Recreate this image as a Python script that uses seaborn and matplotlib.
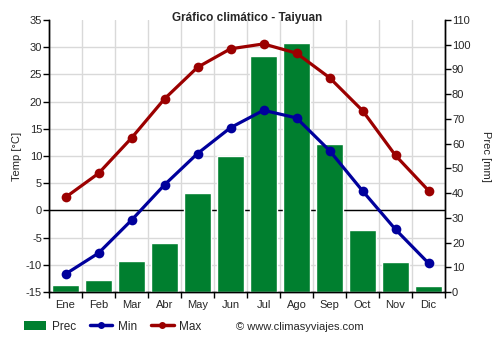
import matplotlib
matplotlib.use("Agg")
import matplotlib.pyplot as plt
from matplotlib.patches import Patch
from matplotlib.lines import Line2D
import seaborn as sns
import numpy as np

months = ["Ene", "Feb", "Mar", "Abr", "May", "Jun", "Jul", "Ago", "Sep", "Oct", "Nov", "Dic"]
prec = [3, 5, 12.5, 20, 40, 55, 95.5, 100.5, 60, 25, 12, 2.5]
tmin = [-11.7, -7.85, -1.8, 4.7, 10.45, 15.2, 18.4, 17.0, 11.0, 3.6, -3.5, -9.7]
tmax = [2.4, 6.8, 13.3, 20.5, 26.3, 29.7, 30.6, 28.9, 24.4, 18.35, 10.1, 3.65]

temp_ticks = list(range(-15, 40, 5))
prec_ticks = list(range(0, 120, 10))

GREEN = "#007f2f"
BLUE = "#00009c"
RED = "#9b0000"
GRID = "#d9d9d9"

sns.set_theme(style="white")
plt.rcParams['font.family'] = ['Liberation Sans', 'DejaVu Sans']
plt.rcParams['axes.unicode_minus'] = False

fig = plt.figure(figsize=(5, 3.5), dpi=100)
axb = fig.add_axes([0.098, 0.1657, 0.792, 0.7772])
axt = axb.twinx()

# bars (precipitation) on the lower axes, right scale
sns.barplot(x=months, y=prec, ax=axb, color=GREEN, saturation=1, width=0.82, zorder=3)
axb.set_ylim(0, 110)
axb.set_xlim(-0.5, 11.5)

# grid on bar axes, aligned with temperature ticks
def t2p(t):
    return (t + 15) * 110 / 50

axb.set_yticks(prec_ticks)
axb.set_yticks([t2p(t) for t in temp_ticks], minor=True)
axb.yaxis.grid(True, which='minor', color=GRID, lw=1, zorder=0)
axb.yaxis.grid(False, which='major')
axb.set_xticks(range(12))
axb.set_xticklabels(months)
axb.set_xticks(np.arange(-0.5, 12, 1), minor=True)
axb.xaxis.grid(True, which='minor', color=GRID, lw=1, zorder=0)
axb.xaxis.grid(False, which='major')
axb.set_axisbelow(True)
axb.axhline(t2p(0), color='black', lw=1, zorder=2)

axb.yaxis.tick_right()
axb.yaxis.set_label_position('right')
axb.tick_params(axis='y', which='major', direction='out', length=4, width=1, color='black',
                labelsize=8, pad=1, right=True, left=False, labelright=True, labelleft=False)
axb.tick_params(axis='y', which='minor', length=0)
axb.tick_params(axis='x', which='major', length=0, labelsize=8, pad=6)
axb.tick_params(axis='x', which='minor', direction='out', length=4, width=1, color='black', bottom=True)
axb.set_xlabel("")
axb.set_ylabel("Prec [mm]", rotation=270, fontsize=8, labelpad=15)

# temperature lines on the top axes, left scale
x = np.arange(len(months))
sns.lineplot(x=x, y=tmin, ax=axt, color=BLUE, lw=2.3, marker='o', markersize=7,
             markeredgewidth=0, zorder=5)
sns.lineplot(x=x, y=tmax, ax=axt, color=RED, lw=2.3, marker='o', markersize=7,
             markeredgewidth=0, zorder=5)
axt.set_ylim(-15, 35)
axt.set_yticks(temp_ticks)
axt.yaxis.tick_left()
axt.yaxis.set_label_position('left')
axt.tick_params(axis='y', direction='out', length=4, width=1, color='black',
                labelsize=8, pad=1, left=True, right=False, labelleft=True, labelright=False)
axt.set_ylabel("Temp [°C]", fontsize=8, labelpad=3)
axt.grid(False)
axt.patch.set_visible(False)

for ax in (axb, axt):
    for s in ('left', 'right', 'bottom'):
        ax.spines[s].set_visible(True)
        ax.spines[s].set_color('black')
        ax.spines[s].set_linewidth(1)
    ax.spines['top'].set_visible(False)

fig.text(0.494, 0.95, "Gráfico climático - Taiyuan", ha='center', va='center',
         fontsize=8.5, fontweight='bold')

handles = [
    Patch(facecolor=GREEN, edgecolor='none'),
    Line2D([], [], color=BLUE, lw=2.5, marker='o', markersize=4),
    Line2D([], [], color=RED, lw=2.5, marker='o', markersize=4),
]
fig.legend(handles, ["Prec", "Min", "Max"], loc='center left', bbox_to_anchor=(0.048, 0.067),
           ncol=3, frameon=False, fontsize=8.5, handlelength=1.9, handleheight=0.8,
           columnspacing=1.2, handletextpad=0.45, borderpad=0, borderaxespad=0)
fig.text(0.472, 0.067, "© www.climasyviajes.com", ha='left', va='center', fontsize=8)

fig.savefig("out.png", dpi=100)
